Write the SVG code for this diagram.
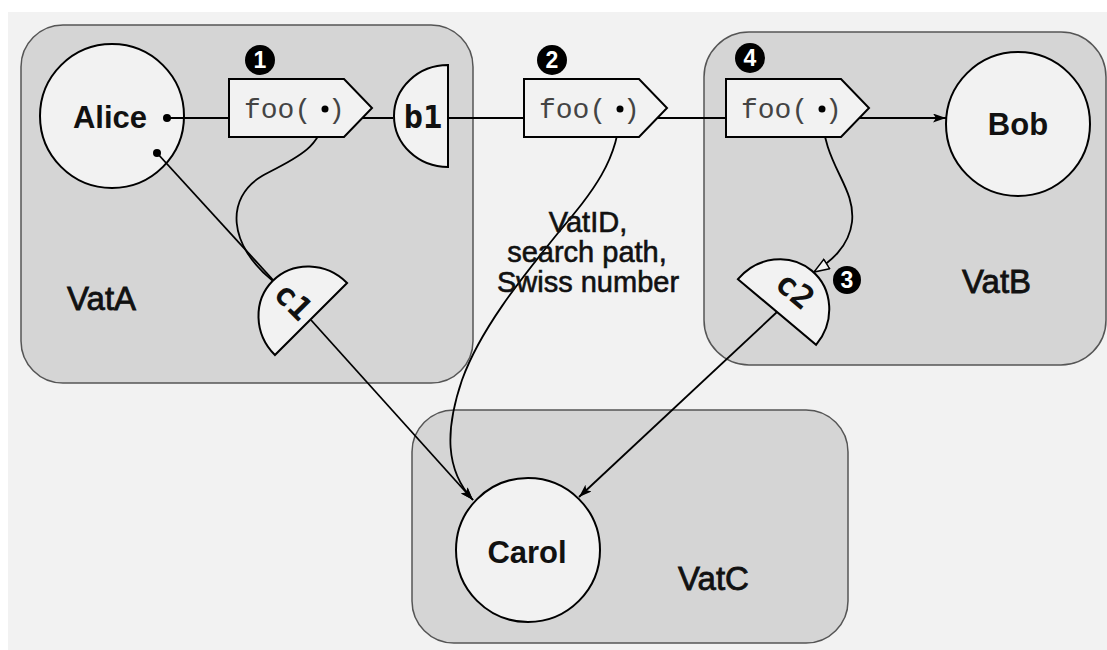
<svg xmlns="http://www.w3.org/2000/svg" xmlns:xlink="http://www.w3.org/1999/xlink" width="1107" height="650" viewBox="0 0 1107 650">
<style>
.vat{fill:#d5d5d5;stroke:#555;stroke-width:1.5}
.node{fill:#f2f2f2;stroke:#000;stroke-width:2}
.name{font-family:"Liberation Sans",Arial,sans-serif;font-weight:bold;font-size:31px;text-anchor:middle;fill:#111}
.vatlbl{font-family:"Liberation Sans",Arial,sans-serif;font-size:33px;fill:#111;stroke:#111;stroke-width:0.8}
.info{font-family:"Liberation Sans",Arial,sans-serif;font-size:29px;fill:#111;stroke:#111;stroke-width:0.6;text-anchor:middle}
.mono{font-family:"Liberation Mono","Courier New",monospace;font-size:28px;fill:#444}
.ref{font-family:"DejaVu Sans Mono",monospace;font-weight:bold;font-size:32px;fill:#111;text-anchor:middle}
.badge{font-family:"Liberation Sans",Arial,sans-serif;font-weight:bold;font-size:23px;fill:#fff;text-anchor:middle}
.conn{fill:none;stroke:#000;stroke-width:1.8}
</style>
<defs>
<marker id="arr" markerUnits="userSpaceOnUse" markerWidth="14" markerHeight="10" refX="13" refY="4.5" orient="auto">
<path d="M0,0 L13,4.5 L0,9 L3,4.5 Z" fill="#000"/>
</marker>
<marker id="hollow" markerUnits="userSpaceOnUse" markerWidth="18" markerHeight="14" refX="16" refY="6.5" orient="auto">
<path d="M1,1 L16,6.5 L1,12 Z" fill="#f2f2f2" stroke="#000" stroke-width="1.5"/>
</marker>
<path id="msg" d="M229,79 H344 L372,108 L344,137 H229 Z"/>
<path id="half" d="M0,-51 V51 A54,51 0 0 1 0,-51 Z"/>
</defs>
<rect x="8" y="12" width="1099" height="638" fill="#f2f2f2"/>
<g id="VatA"><rect class="vat" x="21" y="25" width="452" height="358" rx="42"/><text class="vatlbl" x="67" y="310">VatA</text></g>
<g id="VatB"><rect class="vat" x="704" y="32" width="402" height="333" rx="45"/><text class="vatlbl" x="962" y="293">VatB</text></g>
<g id="VatC"><rect class="vat" x="412" y="410" width="436" height="233" rx="42"/><text class="vatlbl" x="678" y="590">VatC</text></g>
<g id="Alice"><circle class="node" cx="112" cy="116" r="72"/><text class="name" x="110" y="128">Alice</text></g>
<g id="Bob"><circle class="node" cx="1018" cy="124" r="72"/><text class="name" x="1018" y="135">Bob</text></g>
<g id="Carol"><circle class="node" cx="528" cy="550" r="72"/><text class="name" x="527" y="563">Carol</text></g>
<g id="connectors">
<path class="conn" d="M167,118 H393"/>
<path class="conn" d="M448,118 H946" marker-end="url(#arr)"/>
<path class="conn" d="M157,153 L274,281"/>
<path class="conn" d="M325,109 C325,150 290,160 262,176 C225,198 228,245 273,281"/>
<path class="conn" d="M620,109 C620,160 590,195 558,233 C520,280 480,330 462,380 C445,430 445,470 473,500" marker-end="url(#arr)"/>
<path class="conn" d="M311,320 L473,500" marker-end="url(#arr)"/>
<path class="conn" d="M822,109 C822,165 856,185 852,222 C849,247 830,262 814,272" marker-end="url(#hollow)"/>
<path class="conn" d="M777,312 L579,497" marker-end="url(#arr)"/>
<circle cx="167" cy="118" r="4"/><circle cx="157" cy="153" r="4"/>
</g>
<g id="msg1"><use href="#msg" class="node"/><text class="mono" x="244" y="118">foo(</text><text class="mono" x="328" y="118">)</text><circle cx="325" cy="109" r="3.5"/></g>
<g id="msg2" transform="translate(295,0)"><use href="#msg" class="node"/><text class="mono" x="244" y="118">foo(</text><text class="mono" x="328" y="118">)</text><circle cx="325" cy="109" r="3.5"/></g>
<g id="msg3" transform="translate(497,0)"><use href="#msg" class="node"/><text class="mono" x="244" y="118">foo(</text><text class="mono" x="328" y="118">)</text><circle cx="325" cy="109" r="3.5"/></g>
<g id="b1" transform="translate(448,116)"><use href="#half" class="node"/><text class="ref" x="-25" y="12">b1</text></g>
<g id="c1" transform="translate(311,319) rotate(45)"><use href="#half" class="node"/><text class="ref" x="-25" y="11">c1</text></g>
<g id="c2" transform="translate(777,312) rotate(40)"><path class="node" d="M-51,0 H51 A51,54 0 0 0 -51,0 Z"/><text class="ref" x="0" y="-17">c2</text></g>
<g id="info"><text class="info" x="588" y="232">VatID,</text><text class="info" x="587" y="262">search path,</text><text class="info" x="588" y="292">Swiss number</text></g>
<g id="badge1"><circle cx="260" cy="60" r="15"/><text class="badge" x="260" y="68">1</text></g>
<g id="badge2"><circle cx="552" cy="60" r="15"/><text class="badge" x="552" y="68">2</text></g>
<g id="badge3"><circle cx="847" cy="280" r="14"/><text class="badge" x="847" y="288">3</text></g>
<g id="badge4"><circle cx="750" cy="58" r="15"/><text class="badge" x="750" y="66">4</text></g>
</svg>
